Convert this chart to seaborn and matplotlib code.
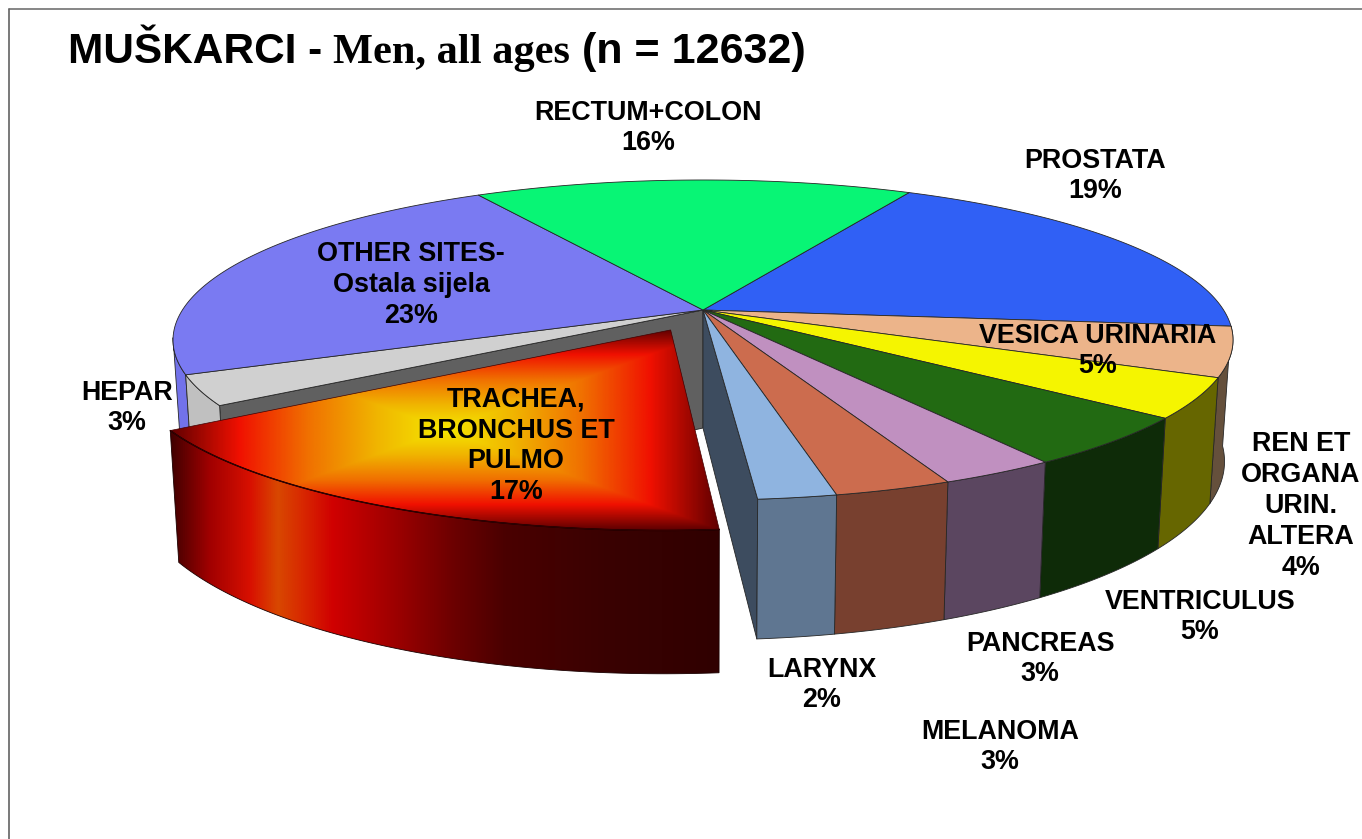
import matplotlib
matplotlib.use("Agg")
import matplotlib.pyplot as plt
import numpy as np
import seaborn as sns
from matplotlib.colors import LinearSegmentedColormap
from matplotlib.patches import Polygon

sites = [
    "PROSTATA",
    "VESICA URINARIA",
    "REN ET\nORGANA\nURIN.\nALTERA",
    "VENTRICULUS",
    "PANCREAS",
    "MELANOMA",
    "LARYNX",
    "TRACHEA,\nBRONCHUS ET\nPULMO",
    "HEPAR",
    "OTHER SITES-\nOstala sijela",
    "RECTUM+COLON",
]
shares = [19, 5, 4, 5, 3, 3, 2, 17, 3, 23, 16]
top_colors = [
    "#3060f5", "#ecb48a", "#f5f500", "#226a12", "#c090c0", "#cc6c4e",
    "#8fb4e0", "#e01000", "#d0d0d0", "#7a7af2", "#08f575",
]
side_colors = [
    "#2040a0", "#65503c", "#666600", "#0e2b08", "#5b4660", "#78402f",
    "#5f7691", "#700000", "#c0c0c0", "#7272ea", "#08a050",
]
label_centers = [
    (1095, 176), (1098, 351), (1301, 506), (1200, 617), (1040, 659), (1000, 747),
    (822, 685), (516, 446), (127, 408), (411, 285), (648, 128),
]

START_ANGLE = 27.5
EXPLODED = 7
EXPLODE_DIST = 0.14

# perspective of the pie, fitted to the picture
CX, CY = 703, 310
R, H, K = 520.6, 154.4, 0.1875


def project(angle, off=(0.0, 0.0)):
    rad = np.radians(angle)
    x = np.sin(rad) + off[0]
    y = np.cos(rad) + off[1]
    w = 1 + K * y
    return CX + R * x / w, CY - H * y / w


def center_point(off=(0.0, 0.0)):
    w = 1 + K * off[1]
    return CX + R * off[0] / w, CY - H * off[1] / w


def drop(pts):
    pts = np.atleast_2d(pts)
    return np.column_stack([CX + 0.984 * (pts[:, 0] - CX), CY + 118 + 1.115 * (pts[:, 1] - CY)])


def arc(a0, a1, off=(0.0, 0.0)):
    angles = np.linspace(a0, a1, 80)
    return np.column_stack(project(angles, off))


def side_poly(a0, a1, off=(0.0, 0.0)):
    rim = arc(a0, a1, off)
    return np.vstack([rim, drop(rim)[::-1]])


def gradient_fill(ax, poly, arr, cmap, extent):
    patch = Polygon(poly, closed=True, facecolor="none", edgecolor="none", transform=ax.transData, zorder=3)
    ax.add_patch(patch)
    im = ax.imshow(arr, cmap=cmap, vmin=0, vmax=1, extent=extent, aspect="auto",
                   interpolation="bilinear", zorder=3)
    im.set_clip_path(patch)


sns.set_theme(style="white")
plt.rcParams["font.family"] = ["Liberation Sans", "DejaVu Sans"]

fig, ax = plt.subplots(figsize=(13.62, 8.39), dpi=100)
ax.set_position([0, 0, 1, 1])
ax.axis("off")

ax.plot([9, 9], [839, 9], color="#555555", lw=1.1)
ax.plot([9, 1362], [9, 9], color="#666666", lw=1.1)

edges = np.concatenate([[0], np.cumsum(shares)]) * 3.6 + START_ANGLE
LINE = dict(edgecolor="#262626", linewidth=0.6, joinstyle="round")

# inner walls seen through the gap left by the pulled out slice
center = np.array(center_point())
for angle, color in [(edges[EXPLODED + 1], "#606060"), (edges[EXPLODED], "#3d4c5f")]:
    rim = np.array(project(angle))
    wall = np.vstack([center, rim, drop(rim), drop(center)])
    ax.add_patch(Polygon(wall, closed=True, facecolor=color, **LINE))

# outer rim, the part facing the viewer
for i in [9, 8, 1, 2, 3, 4, 5, 6]:
    a0, a1 = edges[i], edges[i + 1]
    if i == 9:
        a1 = min(a1, 260)  # stop at the left extreme of the ellipse
    ax.add_patch(Polygon(side_poly(a0, a1), closed=True, facecolor=side_colors[i], **LINE))

# top faces
for i in range(len(shares)):
    if i == EXPLODED:
        continue
    face = np.vstack([center, arc(edges[i], edges[i + 1])])
    ax.add_patch(Polygon(face, closed=True, facecolor=top_colors[i], **LINE))

# pulled out slice
mid = np.radians((edges[EXPLODED] + edges[EXPLODED + 1]) / 2)
off = (EXPLODE_DIST * np.sin(mid), EXPLODE_DIST * np.cos(mid))
a0, a1 = edges[EXPLODED], edges[EXPLODED + 1]
rim = arc(a0, a1, off)
apex = np.array(center_point(off))
slice_top = np.vstack([apex, rim])
slice_side = side_poly(a0, a1, off)

side_cmap = LinearSegmentedColormap.from_list(
    "side",
    [
        (0.0, "#400000"), (0.07, "#a00000"), (0.145, "#d81000"), (0.195, "#d84800"),
        (0.24, "#d82800"), (0.295, "#d00000"), (0.42, "#980000"), (0.52, "#6a0000"),
        (0.61, "#4a0000"), (0.79, "#3a0202"), (1.0, "#300000"),
    ],
)
x0, x1 = slice_side[:, 0].min(), slice_side[:, 0].max()
y0, y1 = slice_side[:, 1].min(), slice_side[:, 1].max()
gradient_fill(ax, slice_side, np.linspace(0, 1, 512)[None, :], side_cmap, (x0, x1, y1, y0))
ax.add_patch(Polygon(slice_side, closed=True, facecolor="none", edgecolor="#1a0000", linewidth=0.6, zorder=3.5))

top_cmap = sns.blend_palette(["#f5e800", "#f0b400", "#f07000", "#f01000", "#600000"], n_colors=256, as_cmap=True)
x0, x1 = slice_top[:, 0].min(), slice_top[:, 0].max()
y0, y1 = slice_top[:, 1].min(), slice_top[:, 1].max()
u = np.abs(np.linspace(-1, 1, 600))
v = np.abs(np.linspace(-1, 1, 300))
gradient_fill(ax, slice_top, np.maximum.outer(v, u), top_cmap, (x0, x1, y1, y0))
ax.plot(rim[:, 0], rim[:, 1], color="#140000", lw=1.0, zorder=4)
ax.add_patch(Polygon(slice_top, closed=True, facecolor="none", edgecolor="#400000", linewidth=0.5, zorder=4))

ax.set_xlim(0, 1362)
ax.set_ylim(839, 0)

# labels
for name, share, (lx, ly) in zip(sites, shares, label_centers):
    ax.text(lx, ly, f"{name}\n{share}%", ha="center", va="center", fontsize=19.4,
            fontweight="bold", color="black", linespacing=1.24, zorder=5)

# title in three runs, the middle one in a serif face
ax.text(68, 63, "MUŠKARCI -", fontsize=30.5, fontweight="bold", color="black", va="baseline", zorder=5)
ax.text(333, 63, "Men, all ages", fontsize=30.5, fontweight="bold", color="black", va="baseline",
        family=["Liberation Serif", "DejaVu Serif"], zorder=5)
ax.text(582, 63, "(n = 12632)", fontsize=31, fontweight="bold", color="black", va="baseline", zorder=5)

fig.savefig("out.png", dpi=100, facecolor="white")
